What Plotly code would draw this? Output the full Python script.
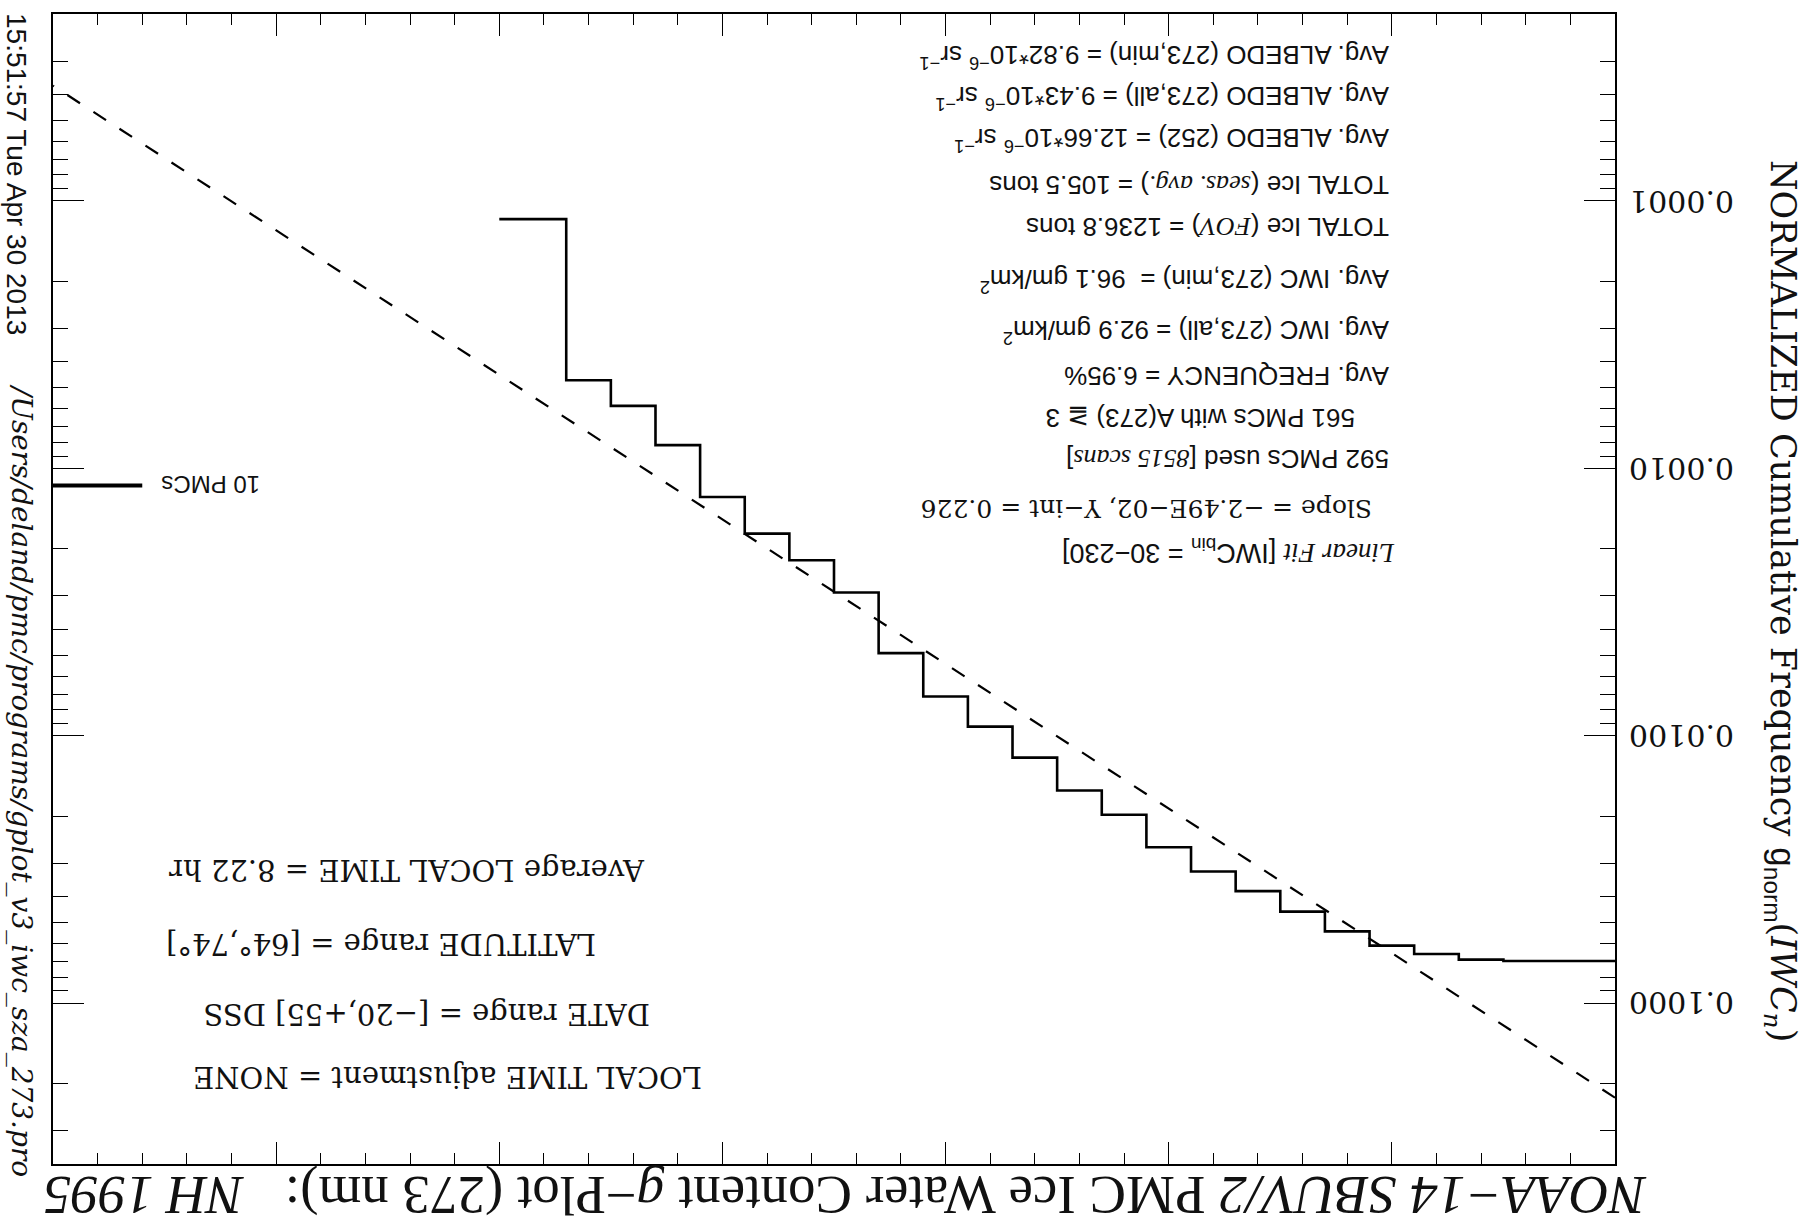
import numpy as np
import plotly.graph_objects as go

# ---- data -------------------------------------------------------------
# IWC bin edges (gm/km^2) of the cumulative-frequency step curve
iwc_edges = [250, 235, 225, 215, 205, 195, 185, 175, 165, 155, 145, 135,
             125, 115, 105, 95, 85, 75, 65, 55, 45, 35, 25, 0]
# normalized cumulative frequency for each bin
g_norm = [1.170e-4, 4.686e-4, 5.843e-4, 8.19e-4, 1.281e-3, 1.756e-3,
          2.207e-3, 2.916e-3, 4.912e-3, 7.135e-3, 9.256e-3, 1.2085e-2,
          1.6044e-2, 1.977e-2, 2.613e-2, 3.220e-2, 3.815e-2, 4.552e-2,
          5.395e-2, 6.099e-2, 6.556e-2, 6.88e-2, 6.966e-2]

# linear fit of ln(g) vs IWC
fit_slope = -2.49e-2
fit_yint = 0.226
fit_iwc = [0, 350]

# 10-PMC reference bar
bar_iwc = [350, 330]
bar_g = [1.16e-3, 1.16e-3]

# axis ticks
y_tick_vals = [1e-4, 1e-3, 1e-2, 1e-1]
y_tick_text = ["0.0001", "0.0010", "0.0100", "0.1000"]

# ---- layout geometry (pixels) -----------------------------------------
FIG_W, FIG_H = 1803, 1225
L, T, W, H = 53, 12, 1562, 1152
SANS = "Liberation Sans"
SERIF = "Liberation Serif"
WSERIF = "DejaVu Serif"
INK = "#111111"


def paper(px, py):
    return (px - L) / W, (T + H - py) / H


fig = go.Figure()

# step curve
xs = list(iwc_edges[:-1]) + [iwc_edges[-1]]
ys = list(g_norm) + [g_norm[-1]]
fig.add_trace(go.Scatter(x=xs, y=ys, mode="lines", line_shape="hv",
                         line=dict(color="black", width=2.6),
                         showlegend=False, hoverinfo="skip"))

# fitted line
fit_g = [fit_yint * np.exp(fit_slope * v) for v in fit_iwc]
fig.add_trace(go.Scatter(x=fit_iwc, y=fit_g, mode="lines",
                         line=dict(color="black", width=2.2, dash="15px,16px"),
                         showlegend=False, hoverinfo="skip"))

# reference bar
fig.add_trace(go.Scatter(x=bar_iwc, y=bar_g, mode="lines",
                         line=dict(color="black", width=4),
                         showlegend=False, hoverinfo="skip"))

anns = []


def add_text(text, px, py, size, family, angle=180, xanchor="right",
             yanchor="middle"):
    x, y = paper(px, py)
    anns.append(dict(text=text, x=x, y=y, xref="paper", yref="paper",
                     showarrow=False, textangle=angle, xanchor=xanchor,
                     yanchor=yanchor, font=dict(size=size, family=family,
                                                color=INK)))


def serif_i(s):
    return f'<span style="font-family:{SERIF}"><i>{s}</i></span>'


# statistics block (upper right)
stats = [
    ("Avg. ALBEDO (273,min) = 9.82*10<sup>\u22126</sup> sr<sup>\u22121</sup>", 1391, 54),
    ("Avg. ALBEDO (273,all) = 9.43*10<sup>\u22126</sup> sr<sup>\u22121</sup>", 1391, 95),
    ("Avg. ALBEDO (252) = 12.66*10<sup>\u22126</sup> sr<sup>\u22121</sup>", 1391, 137),
    (f"TOTAL Ice ({serif_i('seas. avg.')}) = 105.5 tons", 1391, 184),
    (f"TOTAL Ice ({serif_i('FOV')}) = 1236.8 tons", 1391, 226),
    ("Avg. IWC (273,min) =\u00a0\u00a096.1 gm/km<sup>2</sup>", 1391, 279),
    ("Avg. IWC (273,all) = 92.9 gm/km<sup>2</sup>", 1391, 330),
    ("Avg. FREQUENCY = 6.95%", 1391, 374),
    ("561 PMCs with A(273) \u2267 3", 1357, 416),
    (f"592 PMCs used [{serif_i('8515 scans')}]", 1391, 458),
]
for txt, px, py in stats:
    add_text(txt, px, py, 26, SANS)

add_text("Slope = \u22122.49E\u221202, Y\u2212int = 0.226", 1374, 508, 25, WSERIF)
add_text(f"{serif_i('Linear Fit')} [IWC<sub>bin</sub> = 30\u2212230]",
         1397, 550, 27, SANS)

# selection block (lower left)
sel = [
    ("Average LOCAL TIME = 8.22 hr", 647, 870),
    ("LATITUDE range = [64\u00b0,74\u00b0]", 598, 943),
    ("DATE range = [\u221220,+55] DSS", 652, 1013),
    ("LOCAL TIME adjustment = NONE", 704, 1077),
]
for txt, px, py in sel:
    add_text(txt, px, py, 29, WSERIF)

# 10-PMC label
add_text("10 PMCs", 262, 484, 24, SANS)

# title (drawn inverted, below the frame)
title = ("<i>NOAA\u221214 SBUV/2</i> PMC Ice Water Content <i>g</i>\u2212Plot "
         "(273 nm):\u00a0\u00a0 <i>NH 1995</i>")
add_text(title, 845, 1195, 55, SERIF, xanchor="center")

# y-axis title (vertical, on the right)
ytitle = (f"NORMALIZED Cumulative Frequency "
          f'<span style="font-family:{SANS}">g<sub>norm</sub></span>'
          f"(<i>IWC<sub>n</sub></i>)")
add_text(ytitle, 1780, 600, 35, WSERIF, angle=90, xanchor="center")

# y tick labels (inverted)
for v, t in zip(y_tick_vals, y_tick_text):
    anns.append(dict(text=t, x=(1627 - L) / W, y=np.log10(v), xref="paper",
                     yref="y", showarrow=False, textangle=180,
                     xanchor="left", yanchor="middle",
                     font=dict(size=30, family=WSERIF, color=INK)))

# time stamp and program path along the left edge
add_text("15:51:57 Tue Apr 30 2013", 17, 9, 28, SANS, angle=90,
         xanchor="center", yanchor="top")
add_text("<i>/Users/deland/pmc/programs/gplot_v3_iwc_sza_273.pro</i>",
         21, 380, 28, WSERIF, angle=90, xanchor="center", yanchor="top")

fig.update_layout(
    width=FIG_W, height=FIG_H,
    margin=dict(l=L, r=FIG_W - L - W, t=T, b=FIG_H - T - H, pad=0),
    paper_bgcolor="white", plot_bgcolor="white",
    annotations=anns, showlegend=False,
    xaxis=dict(range=[350, 0], showgrid=False, zeroline=False,
               showline=True, linecolor="black", linewidth=1.5,
               mirror="allticks", ticks="inside", ticklen=22,
               tickcolor="black", tickwidth=1, dtick=50, tick0=0,
               showticklabels=False,
               minor=dict(ticks="inside", ticklen=11, dtick=10,
                          tickcolor="black", tickwidth=1, showgrid=False)),
    yaxis=dict(type="log", range=[np.log10(0.4), np.log10(2e-5)],
               showgrid=False, zeroline=False, showline=True,
               linecolor="black", linewidth=1.5, mirror="allticks",
               ticks="inside", ticklen=31, tickcolor="black", tickwidth=1,
               tickvals=y_tick_vals, showticklabels=False,
               minor=dict(ticks="inside", ticklen=15, dtick="D1",
                          tickcolor="black", tickwidth=1, showgrid=False)),
)

fig.write_html("out.html")
